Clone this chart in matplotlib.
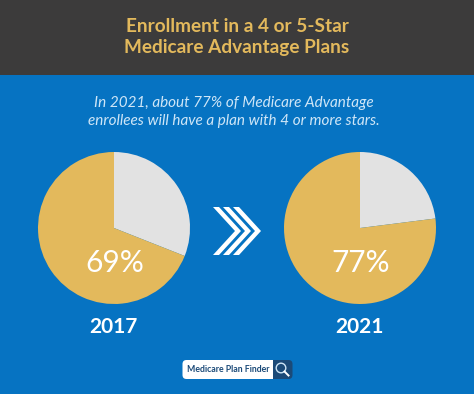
import matplotlib
matplotlib.use('Agg')
import matplotlib.pyplot as plt
from matplotlib.patches import Rectangle, FancyBboxPatch, Circle, Polygon

W, H = 474, 394

years = ['2017', '2021']
enrolled = [69, 77]
pct_labels = ['69%', '77%']
title_lines = 'Enrollment in a 4 or 5-Star\nMedicare Advantage Plans'
sub_lines = 'In 2021, about 77% of Medicare Advantage\nenrollees will have a plan with 4 or more stars.'

BLUE = '#0673c2'
DARK = '#3c3b3b'
GOLD = '#e3b95c'
GREY = '#e2e2e2'
NAVY = '#1b4a78'

plt.rcParams['font.family'] = ['Lato', 'DejaVu Sans']

fig = plt.figure(figsize=(W/100, H/100), dpi=100, facecolor=BLUE)
ax = fig.add_axes([0, 0, 1, 1])
ax.set_xlim(0, W)
ax.set_ylim(0, H)
ax.axis('off')

# y measured from the top of the picture
def Y(py):
    return H - py

ax.add_patch(Rectangle((0, Y(75)), W, 75, color=DARK, lw=0))
ax.text(237, Y(37), title_lines, color=GOLD, fontsize=13.7, fontweight='bold',
        ha='center', va='center', linespacing=1.33)
ax.text(234, Y(112), sub_lines, color='#cfe6f7', fontsize=11, style='italic',
        ha='center', va='center', linespacing=1.36)

# pies
centers = [(114, 228), (360, 228)]
for i in range(2):
    cx, cy = centers[i]
    ax.pie([100-enrolled[i], enrolled[i]], colors=[GREY, GOLD], startangle=90,
           counterclock=False, center=(cx, Y(cy)), radius=76, frame=True)
    ax.text(cx+1, Y(263), pct_labels[i], color='white', fontsize=21.5, ha='center', va='center')
    ax.text(cx-1, Y(327), years[i], color='white', fontsize=15, fontweight='bold',
            ha='center', va='center')
ax.set_xlim(0, W)
ax.set_ylim(0, H)
ax.set_aspect('auto')
ax.axis('off')

# chevrons
for dx in [0, 10, 20]:
    xs = [213+dx, 219+dx, 241+dx, 219+dx, 213+dx, 235+dx]
    ys = [207, 207, 231, 255, 255, 231]
    ax.add_patch(Polygon([(x, Y(y)) for x, y in zip(xs, ys)], color='white', lw=0))

# logo
ax.add_patch(FancyBboxPatch((262, Y(379)), 30.5, 19, boxstyle='round,pad=0,rounding_size=4',
                            fc=NAVY, ec='none'))
ax.add_patch(FancyBboxPatch((182.5, Y(379)), 90.5, 19, boxstyle='round,pad=0,rounding_size=4',
                            fc='white', ec='none'))
ax.add_patch(Rectangle((268, Y(379)), 5, 19, color='white', lw=0))
ax.add_patch(Circle((281, Y(368)), 4.8, fc='none', ec='#cfe6f7', lw=1))
ax.plot([284.5, 288.5], [Y(371.5), Y(375.5)], color='white', lw=1.4)
ax.text(228, Y(369.5), 'Medicare Plan Finder', color=NAVY, fontsize=6.3, fontweight='bold',
        ha='center', va='center')

fig.savefig('out.png', dpi=100, facecolor=BLUE)
